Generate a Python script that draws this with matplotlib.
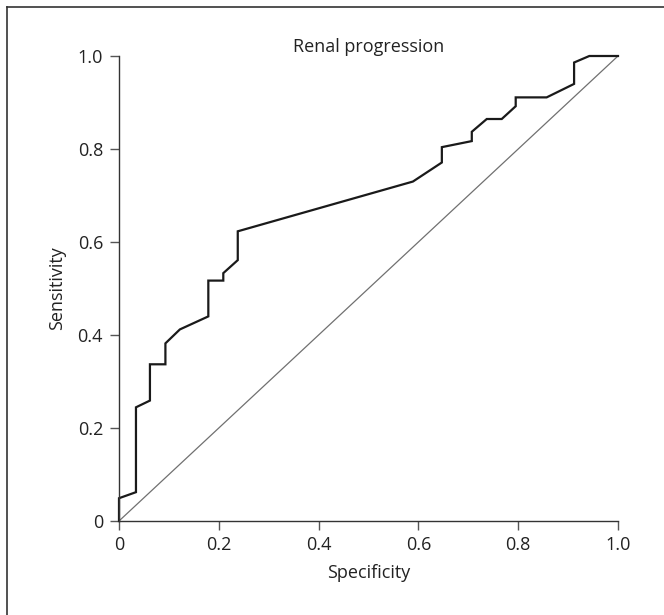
import matplotlib
matplotlib.use('Agg')
import matplotlib.pyplot as plt
from matplotlib.lines import Line2D

plt.rcParams['font.family'] = ['Open Sans', 'DejaVu Sans']

# ROC curve
spec = [0, 0, 0.034, 0.034, 0.062, 0.062, 0.093, 0.093, 0.122, 0.179, 0.179,
        0.209, 0.209, 0.238, 0.238, 0.589, 0.647, 0.647, 0.707, 0.707, 0.737,
        0.767, 0.795, 0.795, 0.857, 0.912, 0.912, 0.9425, 1.0]
sens = [0, 0.049, 0.062, 0.2445, 0.259, 0.337, 0.337, 0.382, 0.412, 0.440, 0.517,
        0.517, 0.533, 0.561, 0.623, 0.730, 0.771, 0.804, 0.817, 0.837, 0.8645,
        0.8645, 0.892, 0.911, 0.911, 0.940, 0.986, 1.0, 1.0]
ref_line = [0, 1]
ticks = [0, 0.2, 0.4, 0.6, 0.8, 1.0]
tick_labels = ['0', '0.2', '0.4', '0.6', '0.8', '1.0']

W, H = 664, 615
fig = plt.figure(figsize=(W/100, H/100), dpi=100)
ax = fig.add_axes([119/W, (H-521)/H, 499/W, 465/H])

ax.plot(ref_line, ref_line, color='#707070', lw=0.9, clip_on=False)
ax.plot(spec, sens, color='#1a1a1a', lw=1.6, clip_on=False, solid_joinstyle='miter')

ax.set_xlim(0, 1)
ax.set_ylim(0, 1)
ax.set_xticks(ticks)
ax.set_xticklabels(tick_labels)
ax.set_yticks(ticks)
ax.set_yticklabels(tick_labels)
for s in ['top', 'right']:
    ax.spines[s].set_visible(False)
for s in ['left', 'bottom']:
    ax.spines[s].set_color('#333333')
    ax.spines[s].set_linewidth(1.0)
ax.tick_params(axis='both', labelsize=13, length=6.5, width=1.0, color='#555555',
               labelcolor='#222222')
ax.tick_params(axis='x', pad=4)
ax.tick_params(axis='y', pad=5)

ax.set_xlabel('Specificity', fontsize=13, color='#222222')
ax.set_ylabel('Sensitivity', fontsize=13, color='#222222')
ax.xaxis.set_label_coords(0.5, -0.092)
ax.yaxis.set_label_coords(-0.106, 0.5)
ax.text(0.5, 1.019, 'Renal progression', transform=ax.transAxes, ha='center',
        va='center', fontsize=13, color='#222222')

# frame lines (only top and left visible in the crop)
fig.add_artist(Line2D([7/W, 1], [1-7/H, 1-7/H], color='#333333', lw=1.2))
fig.add_artist(Line2D([7/W, 7/W], [0, 1-7/H], color='#333333', lw=1.2))

plt.savefig('out.png', dpi=100)
